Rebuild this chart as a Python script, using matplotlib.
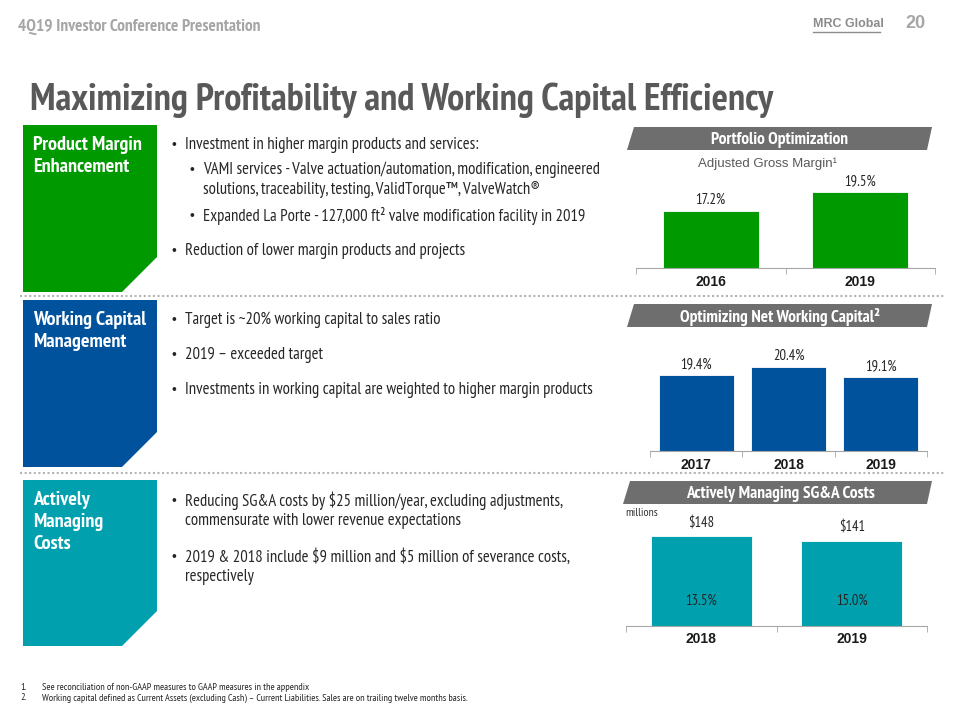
import matplotlib
matplotlib.use('Agg')
import matplotlib.pyplot as plt
from matplotlib.patches import Polygon

NARROW = ['PT Sans Narrow', 'Liberation Sans', 'DejaVu Sans']
WIDE = ['Liberation Sans', 'DejaVu Sans']

GREEN = '#009900'
BLUE = '#00529C'
TEAL = '#00A0AF'
BANNER = '#6E6E6E'
AXIS = '#A6A6A6'

# chart data
margin_years = ['2016', '2019']
margin_pct = [17.2, 19.5]
nwc_years = ['2017', '2018', '2019']
nwc_pct = [19.4, 20.4, 19.1]
sga_years = ['2018', '2019']
sga_cost = [148, 141]
sga_pct = [13.5, 15.0]

fig = plt.figure(figsize=(9.6, 7.2), dpi=100)
bg = fig.add_axes([0, 0, 1, 1])
bg.set_xlim(0, 960)
bg.set_ylim(720, 0)
bg.axis('off')


def t(x, y, s, size=11, color='#262626', weight='normal', family=NARROW, ha='left', **kw):
    bg.text(x, y, s, fontsize=size, color=color, fontweight=weight, family=family,
            ha=ha, va='center', **kw)


# header
t(18, 27, '4Q19 Investor Conference Presentation', size=12.5, color='#A6A6A6', weight='bold')
t(813, 24, 'MRC Global', size=9, color='#8C8C8C', weight='bold', family=WIDE)
bg.plot([813, 880], [32, 32], color='#8C8C8C', lw=1)
t(905, 24, '20', size=13, color='#A6A6A6', weight='bold', family=WIDE)
t(30, 100, 'Maximizing Profitability and Working Capital Efficiency', size=27.5,
  color='#595959', weight='bold')

# left coloured panels
panels = [(GREEN, 125, 292, ['Product Margin', 'Enhancement']),
          (BLUE, 300, 467, ['Working Capital', 'Management']),
          (TEAL, 480, 646, ['Actively', 'Managing', 'Costs'])]
for col, top, bot, lines in panels:
    bg.add_patch(Polygon([(23, top), (157, top), (157, bot - 35), (122, bot), (23, bot)],
                         closed=True, facecolor=col, edgecolor='none'))
    for k, line in enumerate(lines):
        t(33, top + 20 + 22 * k, line, size=14.5, color='white', weight='bold')

# separators
for y in [296, 473]:
    bg.plot([20, 945], [y, y], color='#B4B4B4', lw=1.5, linestyle=(0, (1, 1.2)))

# bullet text
bullets = [
    (0, 145, 'Investment in higher margin products and services:'),
    (1, 170, 'VAMI services - Valve actuation/automation, modification, engineered'),
    (None, 190, 'solutions, traceability, testing, ValidTorque\u2122, ValveWatch\u00ae'),
    (1, 216, 'Expanded La Porte - 127,000 ft\u00b2 valve modification facility in 2019'),
    (0, 251, 'Reduction of lower margin products and projects'),
    (0, 320, 'Target is ~20% working capital to sales ratio'),
    (0, 355, '2019 \u2013 exceeded target'),
    (0, 390, 'Investments in working capital are weighted to higher margin products'),
    (0, 501, 'Reducing SG&A costs by $25 million/year, excluding adjustments,'),
    (None, 521, 'commensurate with lower revenue expectations'),
    (0, 557, r'2019 & 2018 include \$9 million and \$5 million of severance costs,'),
    (None, 577, 'respectively'),
]
prev = 0
for lvl, y, s in bullets:
    if lvl is None:
        lvl = prev
    else:
        t(172 + 18 * lvl, y, '\u2022', size=10, family=WIDE)
    prev = lvl
    t(185 + 18 * lvl, y, s, size=12)

# footnotes
t(20, 687, '1.', size=7.3)
t(42, 687, 'See reconciliation of non-GAAP measures to GAAP measures in the appendix', size=7.3)
t(20, 698, '2.', size=7.3)
t(42, 698, 'Working capital defined as Current Assets (excluding Cash) \u2013 Current Liabilities. '
   'Sales are on trailing twelve months basis.', size=7.3)

# grey banners above charts
banners = [(127, 150, 627, 'Portfolio Optimization'),
           (304, 327, 627, 'Optimizing Net Working Capital\u00b2'),
           (481, 504, 623, 'Actively Managing SG&A Costs')]
for top, bot, x0, title in banners:
    bg.add_patch(Polygon([(x0, bot), (x0 + 7, top), (932, top), (927, bot)],
                         closed=True, facecolor=BANNER, edgecolor='none'))
    t(780, (top + bot) / 2 + 1, title, size=12.5, color='white', weight='bold', ha='center')

t(768, 164, 'Adjusted Gross Margin\u00b9', size=9.5, color='#595959', family=WIDE, ha='center')
t(625, 513, 'millions', size=8.5, color='#333333')


def chart_axes(x0, x1, ybase, ytop):
    ax = fig.add_axes([x0 / 960, 1 - ybase / 720, (x1 - x0) / 960, (ybase - ytop) / 720])
    ax.patch.set_alpha(0)
    for sp in ['top', 'left', 'right']:
        ax.spines[sp].set_visible(False)
    ax.spines['bottom'].set_color(AXIS)
    ax.set_yticks([])
    return ax


def bar_chart(ax, cats, vals, color, width, ylim, labels, off_px, pad=5):
    x = list(range(len(cats)))
    ax.bar(x, vals, width=width, color=color, edgecolor='white', linewidth=0.6)
    ax.set_xlim(-0.5, len(cats) - 0.5)
    ax.set_ylim(*ylim)
    ax.set_xticks(x)
    ax.set_xticklabels(cats, fontweight='bold', fontsize=10, family=WIDE, color='#1a1a1a')
    ax.set_xticks([i - 0.5 for i in range(len(cats) + 1)], minor=True)
    ax.tick_params(axis='x', which='major', length=0, pad=pad)
    ax.tick_params(axis='x', which='minor', length=4, color=AXIS, direction='out')
    for i, v in enumerate(vals):
        ax.annotate(labels[i], (i, v), xytext=(0, off_px * 0.72), textcoords='offset points',
                    ha='center', va='center', fontsize=10.5, family=NARROW, color='#262626')


ax1 = chart_axes(636, 935, 268, 170)
bar_chart(ax1, margin_years, margin_pct, GREEN, 0.64, (10.3, 10.3 + 98 / 8.26),
          [f'{v}%' for v in margin_pct], 11)

ax2 = chart_axes(650, 927, 451, 340)
bar_chart(ax2, nwc_years, nwc_pct, BLUE, 0.81, (9.9, 9.9 + 111 / 8.0),
          [f'{v}%' for v in nwc_pct], 11)

ax3 = chart_axes(626, 927, 626, 510)
bar_chart(ax3, sga_years, sga_cost, TEAL, 0.67, (0, 116 / 0.605),
          [f'${v}' for v in sga_cost], 13, pad=4)
for i, p in enumerate(sga_pct):
    ax3.annotate(f'{p}%', (i, 0), xytext=(0, 25 * 0.72), textcoords='offset points',
                 ha='center', va='center', fontsize=10.5, family=NARROW, color='#262626')

fig.savefig('out.png', dpi=100)
